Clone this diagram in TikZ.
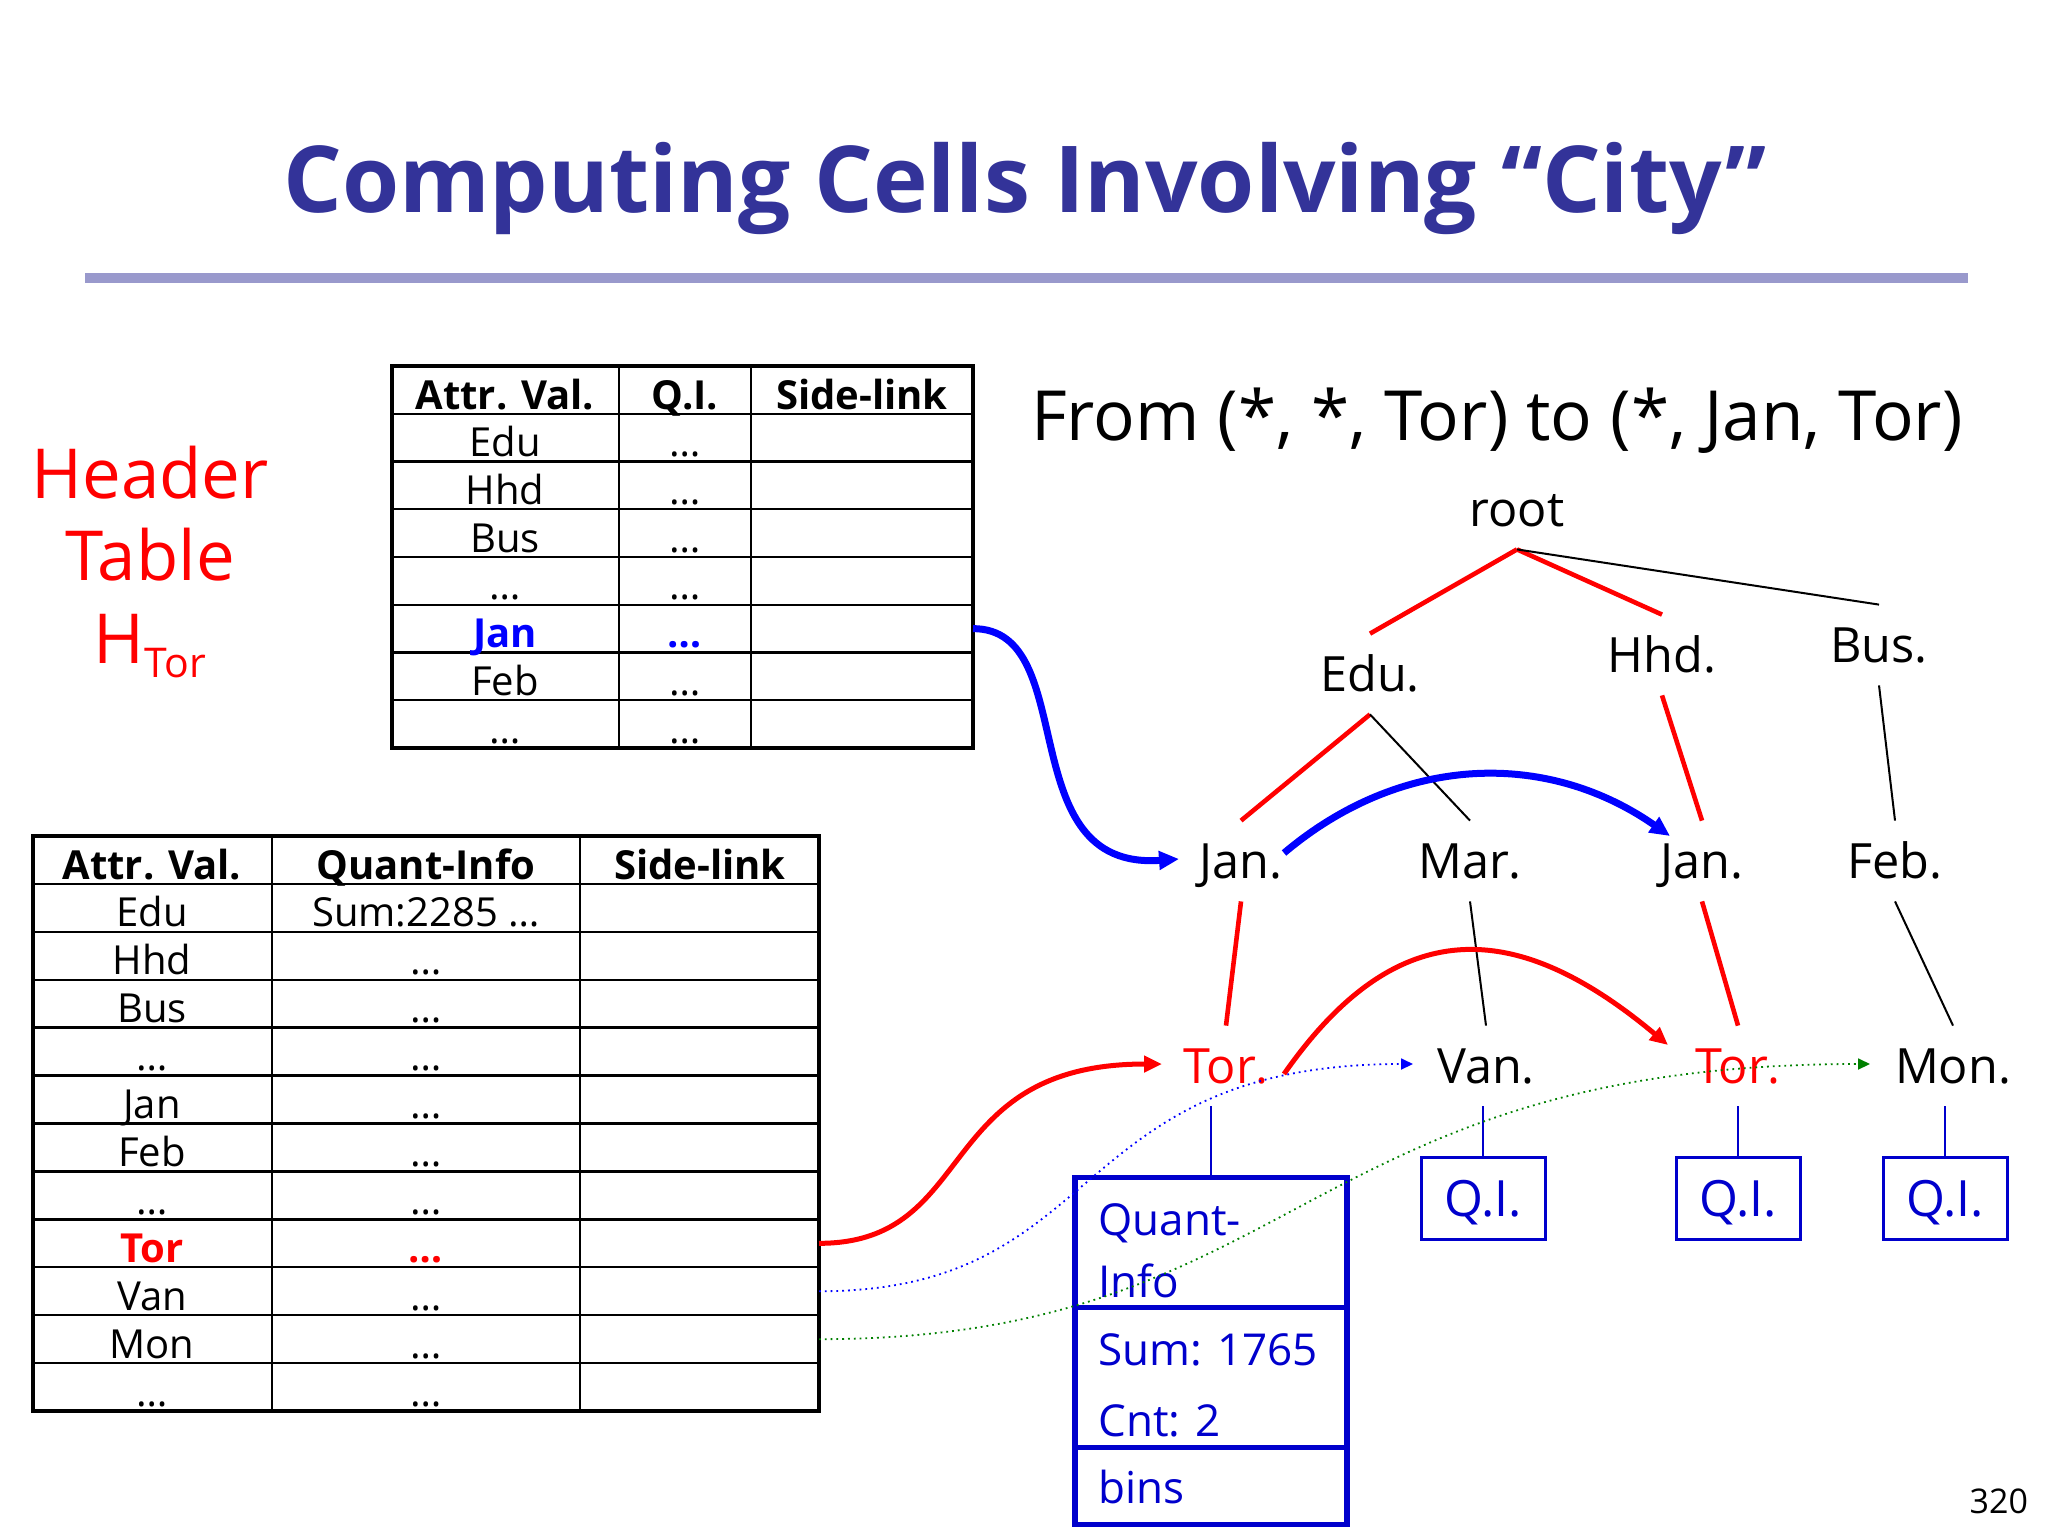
\documentclass[tikz,border=0pt]{standalone}
\usepackage{fontspec}
\setmainfont{Open Sans}
\usepackage{xcolor}
\usepackage{tikz}
\usetikzlibrary{arrows.meta,positioning}

\definecolor{titleblue}{RGB}{51,51,153}
\definecolor{rulelilac}{RGB}{153,153,204}
\definecolor{qiblue}{RGB}{0,0,204}
\definecolor{sidegreen}{RGB}{0,128,0}

\newcommand{\jansel}[1]{{\color{blue}\bfseries #1}}
\newcommand{\torsel}[1]{{\color{red}\bfseries #1}}

\begin{document}
\begin{tikzpicture}[
  x=0.5pt, y=-0.5pt,
  tabline/.style={line width=1.2pt},
  tabframe/.style={line width=2.2pt},
  tabtext/.style={anchor=base, inner sep=0pt, font=\fontsize{20}{24}\selectfont},
  tabhead/.style={tabtext, font=\fontsize{20}{24}\selectfont\bfseries},
  treenode/.style={minimum height=40pt, inner sep=2pt, text height=17.5pt, text depth=0pt,
                   font=\fontsize{24.3}{29}\selectfont},
  hot/.style={red, line width=2.3pt},
  cold/.style={line width=1pt},
  qibox/.style={draw=qiblue, line width=1.5pt, text=qiblue, minimum width=62pt,
                minimum height=41pt, inner sep=0pt, text height=18pt, text depth=0pt,
                font=\fontsize{25}{30}\selectfont},
  qfield/.style={draw=qiblue, line width=2.8pt, minimum width=136pt, inner sep=0pt,
                 outer sep=0pt},
  qtext/.style={anchor=base west, inner sep=0pt, text=qiblue, font=\fontsize{22}{26}\selectfont},
  qiline/.style={qiblue, line width=1.1pt},
  jump/.style={blue, line width=3.5pt, -{Triangle[length=10pt,width=9pt]}},
  hop/.style={red, line width=2.5pt, -{Triangle[length=9pt,width=8pt]}},
  sidelink/.style={dotted, line width=0.9pt, -{Triangle[length=6pt,width=5.5pt]}}
]
  \useasboundingbox (0,0) rectangle (2048,1536);

  \node[anchor=base, text=titleblue, font=\fontsize{46.2}{54}\selectfont\bfseries] (title)
    at (1025,212) {Computing Cells Involving “City”};
  \draw[rulelilac, line width=5pt] (85,278) -- (1968,278);

  \node[anchor=base, text=red, font=\fontsize{34.5}{41}\selectfont] (hdr1) at (150,498) {Header};
  \node[anchor=base, text=red, font=\fontsize{34.5}{41}\selectfont] (hdr2) at (150,580) {Table};
  \node[anchor=base, text=red, font=\fontsize{34.5}{41}\selectfont] (hdr3) at (150,663)
    {H\raisebox{-7pt}{\fontsize{20.5}{24}\selectfont Tor}};

  \node[anchor=base west, font=\fontsize{34.6}{41}\selectfont] (goal) at (1024,440)
    {From (*, *, Tor) to (*, Jan, Tor)};

  % header table of the sub-tree
  \foreach \r in {1,...,7} \draw[tabline] (392,{366+47.75*\r}) -- (973,{366+47.75*\r});
  \foreach \c in {619,751} \draw[tabline] (\c,366) -- (\c,748);
  \draw[tabframe] (392,366) rectangle (973,748);
  \node[tabhead] (th1) at (505,409) {Attr. Val.};
  \node[tabhead] (th2) at (685,409) {Q.I.};
  \node[tabhead] (th3) at (862,409) {Side-link};
  \foreach \a/\q [count=\i] in {Edu/…, Hhd/…, Bus/…, …/…, \jansel{Jan}/\jansel{…}, Feb/…, …/…} {
    \node[tabtext] (ta\i) at (505,{366+47.75*(\i+1)-5}) {\a};
    \node[tabtext] (tq\i) at (685,{366+47.75*(\i+1)-5}) {\q};
    \coordinate (ts\i) at (973,{366+47.75*(\i+0.5)});
  }

  % header table of the base cuboid
  \foreach \r in {1,...,11} \draw[tabline] (33,{836+47.92*\r}) -- (819,{836+47.92*\r});
  \foreach \c in {272,580} \draw[tabline] (\c,836) -- (\c,1411);
  \draw[tabframe] (33,836) rectangle (819,1411);
  \node[tabhead] (bh1) at (152,879) {Attr. Val.};
  \node[tabhead] (bh2) at (426,879) {Quant-Info};
  \node[tabhead] (bh3) at (700,879) {Side-link};
  \foreach \a/\q [count=\i] in {Edu/Sum:2285 …, Hhd/…, Bus/…, …/…, Jan/…, Feb/…, …/…,
                                \torsel{Tor}/\torsel{…}, Van/…, Mon/…, …/…} {
    \node[tabtext] (ba\i) at (152,{836+47.92*(\i+1)-5}) {\a};
    \node[tabtext] (bq\i) at (426,{836+47.92*(\i+1)-5}) {\q};
    \coordinate (bs\i) at (819,{836+47.92*(\i+0.5)});
  }

  % tree
  \node[treenode] (root) at (1517,509) {root};
  \node[treenode] (edu) at (1370,674) {Edu.};
  \node[treenode] (hhd) at (1662,655) {Hhd.};
  \node[treenode] (bus) at (1879,645) {Bus.};
  \node[treenode] (janL) at (1241,861) {Jan.};
  \node[treenode] (mar) at (1470,861) {Mar.};
  \node[treenode] (janR) at (1702,861) {Jan.};
  \node[treenode] (feb) at (1895,861) {Feb.};
  \node[treenode, text=red] (torL) at (1226,1066) {Tor.};
  \node[treenode] (van) at (1486,1066) {Van.};
  \node[treenode, text=red] (torR) at (1738,1066) {Tor.};
  \node[treenode] (mon) at (1953,1066) {Mon.};

  \draw[hot] (root.south) -- (edu.north);
  \draw[hot] (root.south) -- (hhd.north);
  \draw[cold] (root.south) -- (bus.north);
  \draw[hot] (edu.south) -- (janL.north);
  \draw[cold] (edu.south) -- (mar.north);
  \draw[hot] (hhd.south) -- (janR.north);
  \draw[cold] (bus.south) -- (feb.north);
  \draw[hot] (janL.south) -- (torL.north);
  \draw[cold] (mar.south) -- (van.north);
  \draw[hot] (janR.south) -- (torR.north);
  \draw[cold] (feb.south) -- (mon.north);

  \node[qibox] (qivan) [below=25pt of van, xshift=-1.5pt] {Q.I.};
  \node[qibox] (qitor) [below=25pt of torR] {Q.I.};
  \node[qibox] (qimon) [below=25pt of mon, xshift=-4pt] {Q.I.};
  \draw[qiline] (qivan.north) -- (qivan.north |- van.south);
  \draw[qiline] (qitor.north) -- (qitor.north |- torR.south);
  \draw[qiline] (qimon.north) -- (qimon.north |- mon.south);

  \node[qfield, minimum height=65pt] (qf1) [below=35.5pt of torL, xshift=-7.5pt] {};
  \node[qfield, minimum height=70pt] (qf2) [below=0pt of qf1] {};
  \node[qfield, minimum height=38.5pt] (qf3) [below=0pt of qf2] {};
  \draw[qiline] (qf1.north) -- (qf1.north |- torL.south);
  \node[qtext] (qt1) at (1098,1235) {Quant-};
  \node[qtext] (qt2) at (1098,1297) {Info};
  \node[qtext] (qt3) at (1098,1365) {Sum: 1765};
  \node[qtext] (qt4) at (1098,1436) {Cnt: 2};
  \node[qtext] (qt5) at (1098,1503) {bins};

  \draw[jump] (ts5) .. controls +(110,0) and +(-170,12) .. ([shift={(-62,-2)}]janL.center);
  \draw[jump] ([shift={(43,-8)}]janL.center) .. controls +(116,-98) and +(-125,-87)
    .. ([shift={(-32,-25)}]janR.center);
  \draw[hop] (bs8) .. controls +(160,0) and +(-230,0) .. ([shift={(-64,-2)}]torL.center);
  \draw[hop] ([shift={(58,8)}]torL.center) .. controls +(113,-162) and +(-152,-127)
    .. ([shift={(-70,-21)}]torR.center);
  \draw[sidelink, blue] (bs9) .. controls +(290,0) and +(-350,0) .. ([shift={(-73,-2)}]van.center);
  \draw[sidelink, sidegreen] (bs10) .. controls +(480,0) and +(-570,0) .. ([shift={(-83,-2)}]mon.center);

  \node[anchor=base east, font=\fontsize{17}{20}\selectfont] (page) at (2035,1513) {320};
\end{tikzpicture}
\end{document}
